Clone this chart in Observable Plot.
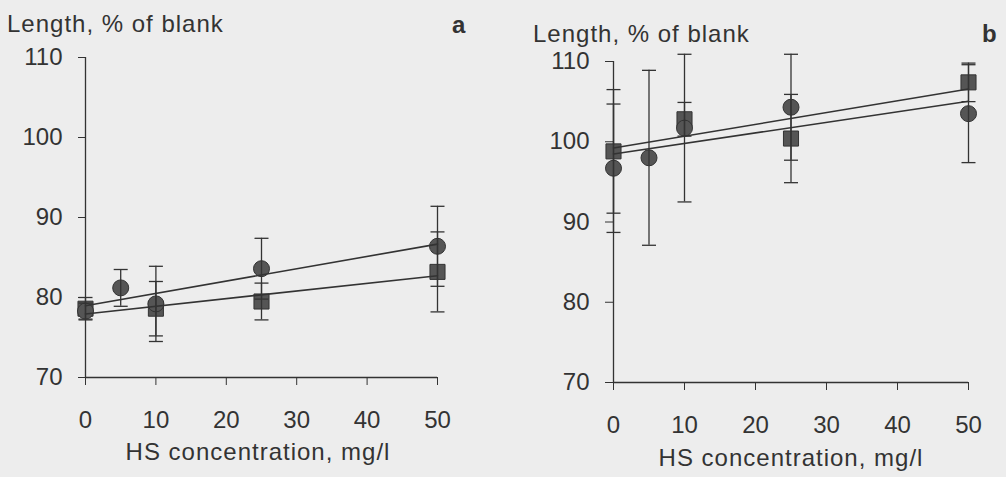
<!DOCTYPE html>
<html>
<head>
<meta charset="utf-8">
<script src="https://cdn.jsdelivr.net/npm/d3@7"></script>
<script src="https://cdn.jsdelivr.net/npm/@observablehq/plot@0.6"></script>
<style>
  html, body { margin: 0; padding: 0; background: #ededed; }
  body { width: 1006px; height: 477px; position: relative; overflow: hidden; font-family: "Liberation Sans", Arial, sans-serif; color: #333; }
  .lbl { position: absolute; font-size: 24px; line-height: 24px; letter-spacing: 1px; white-space: nowrap; }
  .pan { position: absolute; font-size: 24px; line-height: 24px; font-weight: bold; }
  .xl { position: absolute; width: 400px; text-align: center; font-size: 24px; line-height: 24px; letter-spacing: 1px; }
  #pa, #pb { position: absolute; top: 0; }
</style>
</head>
<body>
<div id="pa"></div>
<div id="pb"></div>
<div class="lbl" style="left:7px; top:12px;">Length, % of blank</div>
<div class="pan" style="left:452px; top:13px;">a</div>
<div class="xl" style="left:58px; top:440px;">HS concentration, mg/l</div>
<div class="lbl" style="left:533px; top:22px;">Length, % of blank</div>
<div class="pan" style="left:982px; top:22px;">b</div>
<div class="xl" style="left:591px; top:446px;">HS concentration, mg/l</div>
<script>
// ---- data ----
const xTicks = [0, 10, 20, 30, 40, 50];
const yTicks = [70, 80, 90, 100, 110];

// panel a
const aCircleX = [0, 5, 10, 25, 50];
const aCircleY = [78.3, 81.2, 79.2, 83.6, 86.4];
const aCircleErr = [1.0, 2.3, 4.7, 3.8, 5.0];
const aSquareX = [0, 10, 25, 50];
const aSquareY = [78.6, 78.6, 79.5, 83.2];
const aSquareErr = [1.4, 3.4, 2.3, 5.0];

// panel b
const bCircleX = [0, 5, 10, 25, 50];
const bCircleY = [96.7, 98.0, 101.7, 104.3, 103.5];
const bCircleErr = [8.0, 10.9, 9.2, 6.6, 6.1];
const bSquareX = [0, 10, 25, 50];
const bSquareY = [98.8, 102.8, 100.4, 107.4];
const bSquareErr = [7.7, 2.1, 5.5, 2.4];

const rows = (xs, ys, es) => xs.map((x, i) => ({x, y: ys[i], lo: ys[i] - es[i], hi: ys[i] + es[i]}));

const capSymbol = { draw(ctx, size) { const r = Math.sqrt(size / Math.PI); ctx.moveTo(-r, 0); ctx.lineTo(r, 0); } };
const INK = "#333";
const FILL = "#555";

function panel(circles, squares, m) {
  const errMarks = (d) => [
    Plot.ruleX(d, {x: "x", y1: "lo", y2: "hi", stroke: INK, strokeWidth: 1.3}),
    Plot.dot(d, {x: "x", y: "hi", symbol: capSymbol, r: 7, stroke: INK, strokeWidth: 1.3}),
    Plot.dot(d, {x: "x", y: "lo", symbol: capSymbol, r: 7, stroke: INK, strokeWidth: 1.3})
  ];
  return Plot.plot({
    width: m.width, height: 477,
    marginLeft: m.left, marginRight: m.right, marginTop: m.top, marginBottom: m.bottom,
    style: {background: "transparent", fontFamily: "Liberation Sans, Arial, sans-serif", color: INK},
    x: {domain: [0, 50]},
    y: {domain: [70, 110]},
    marks: [
      Plot.ruleY([70], {stroke: INK, strokeWidth: 1.3}),
      Plot.ruleX([0], {stroke: INK, strokeWidth: 1.3}),
      Plot.axisX({ticks: xTicks, tickSize: 8, tickPadding: 25, fontSize: 24, label: null, stroke: INK}),
      Plot.axisY({ticks: yTicks, tickSize: m.ytick, tickPadding: 16, fontSize: 24, label: null, stroke: INK}),
      Plot.dot(squares, {x: "x", y: "y", symbol: "square", r: 8.5, fill: FILL, stroke: INK, strokeWidth: 1}),
      Plot.dot(circles, {x: "x", y: "y", symbol: "circle", r: 8, fill: FILL, stroke: INK, strokeWidth: 1}),
      ...errMarks(squares),
      ...errMarks(circles),
      Plot.linearRegressionY(circles, {x: "x", y: "y", ci: 0, stroke: INK, strokeWidth: 1.6}),
      Plot.linearRegressionY(squares, {x: "x", y: "y", ci: 0, stroke: INK, strokeWidth: 1.6})
    ]
  });
}

const pa = panel(rows(aCircleX, aCircleY, aCircleErr), rows(aSquareX, aSquareY, aSquareErr),
  {width: 500, left: 85, right: 63, top: 57, bottom: 100, ytick: 7});
document.getElementById("pa").style.left = "0px";
document.getElementById("pa").appendChild(pa);

const pb = panel(rows(bCircleX, bCircleY, bCircleErr), rows(bSquareX, bSquareY, bSquareErr),
  {width: 478, left: 85, right: 38, top: 61, bottom: 95, ytick: 8});
document.getElementById("pb").style.left = "528px";
document.getElementById("pb").appendChild(pb);
</script>
</body>
</html>
